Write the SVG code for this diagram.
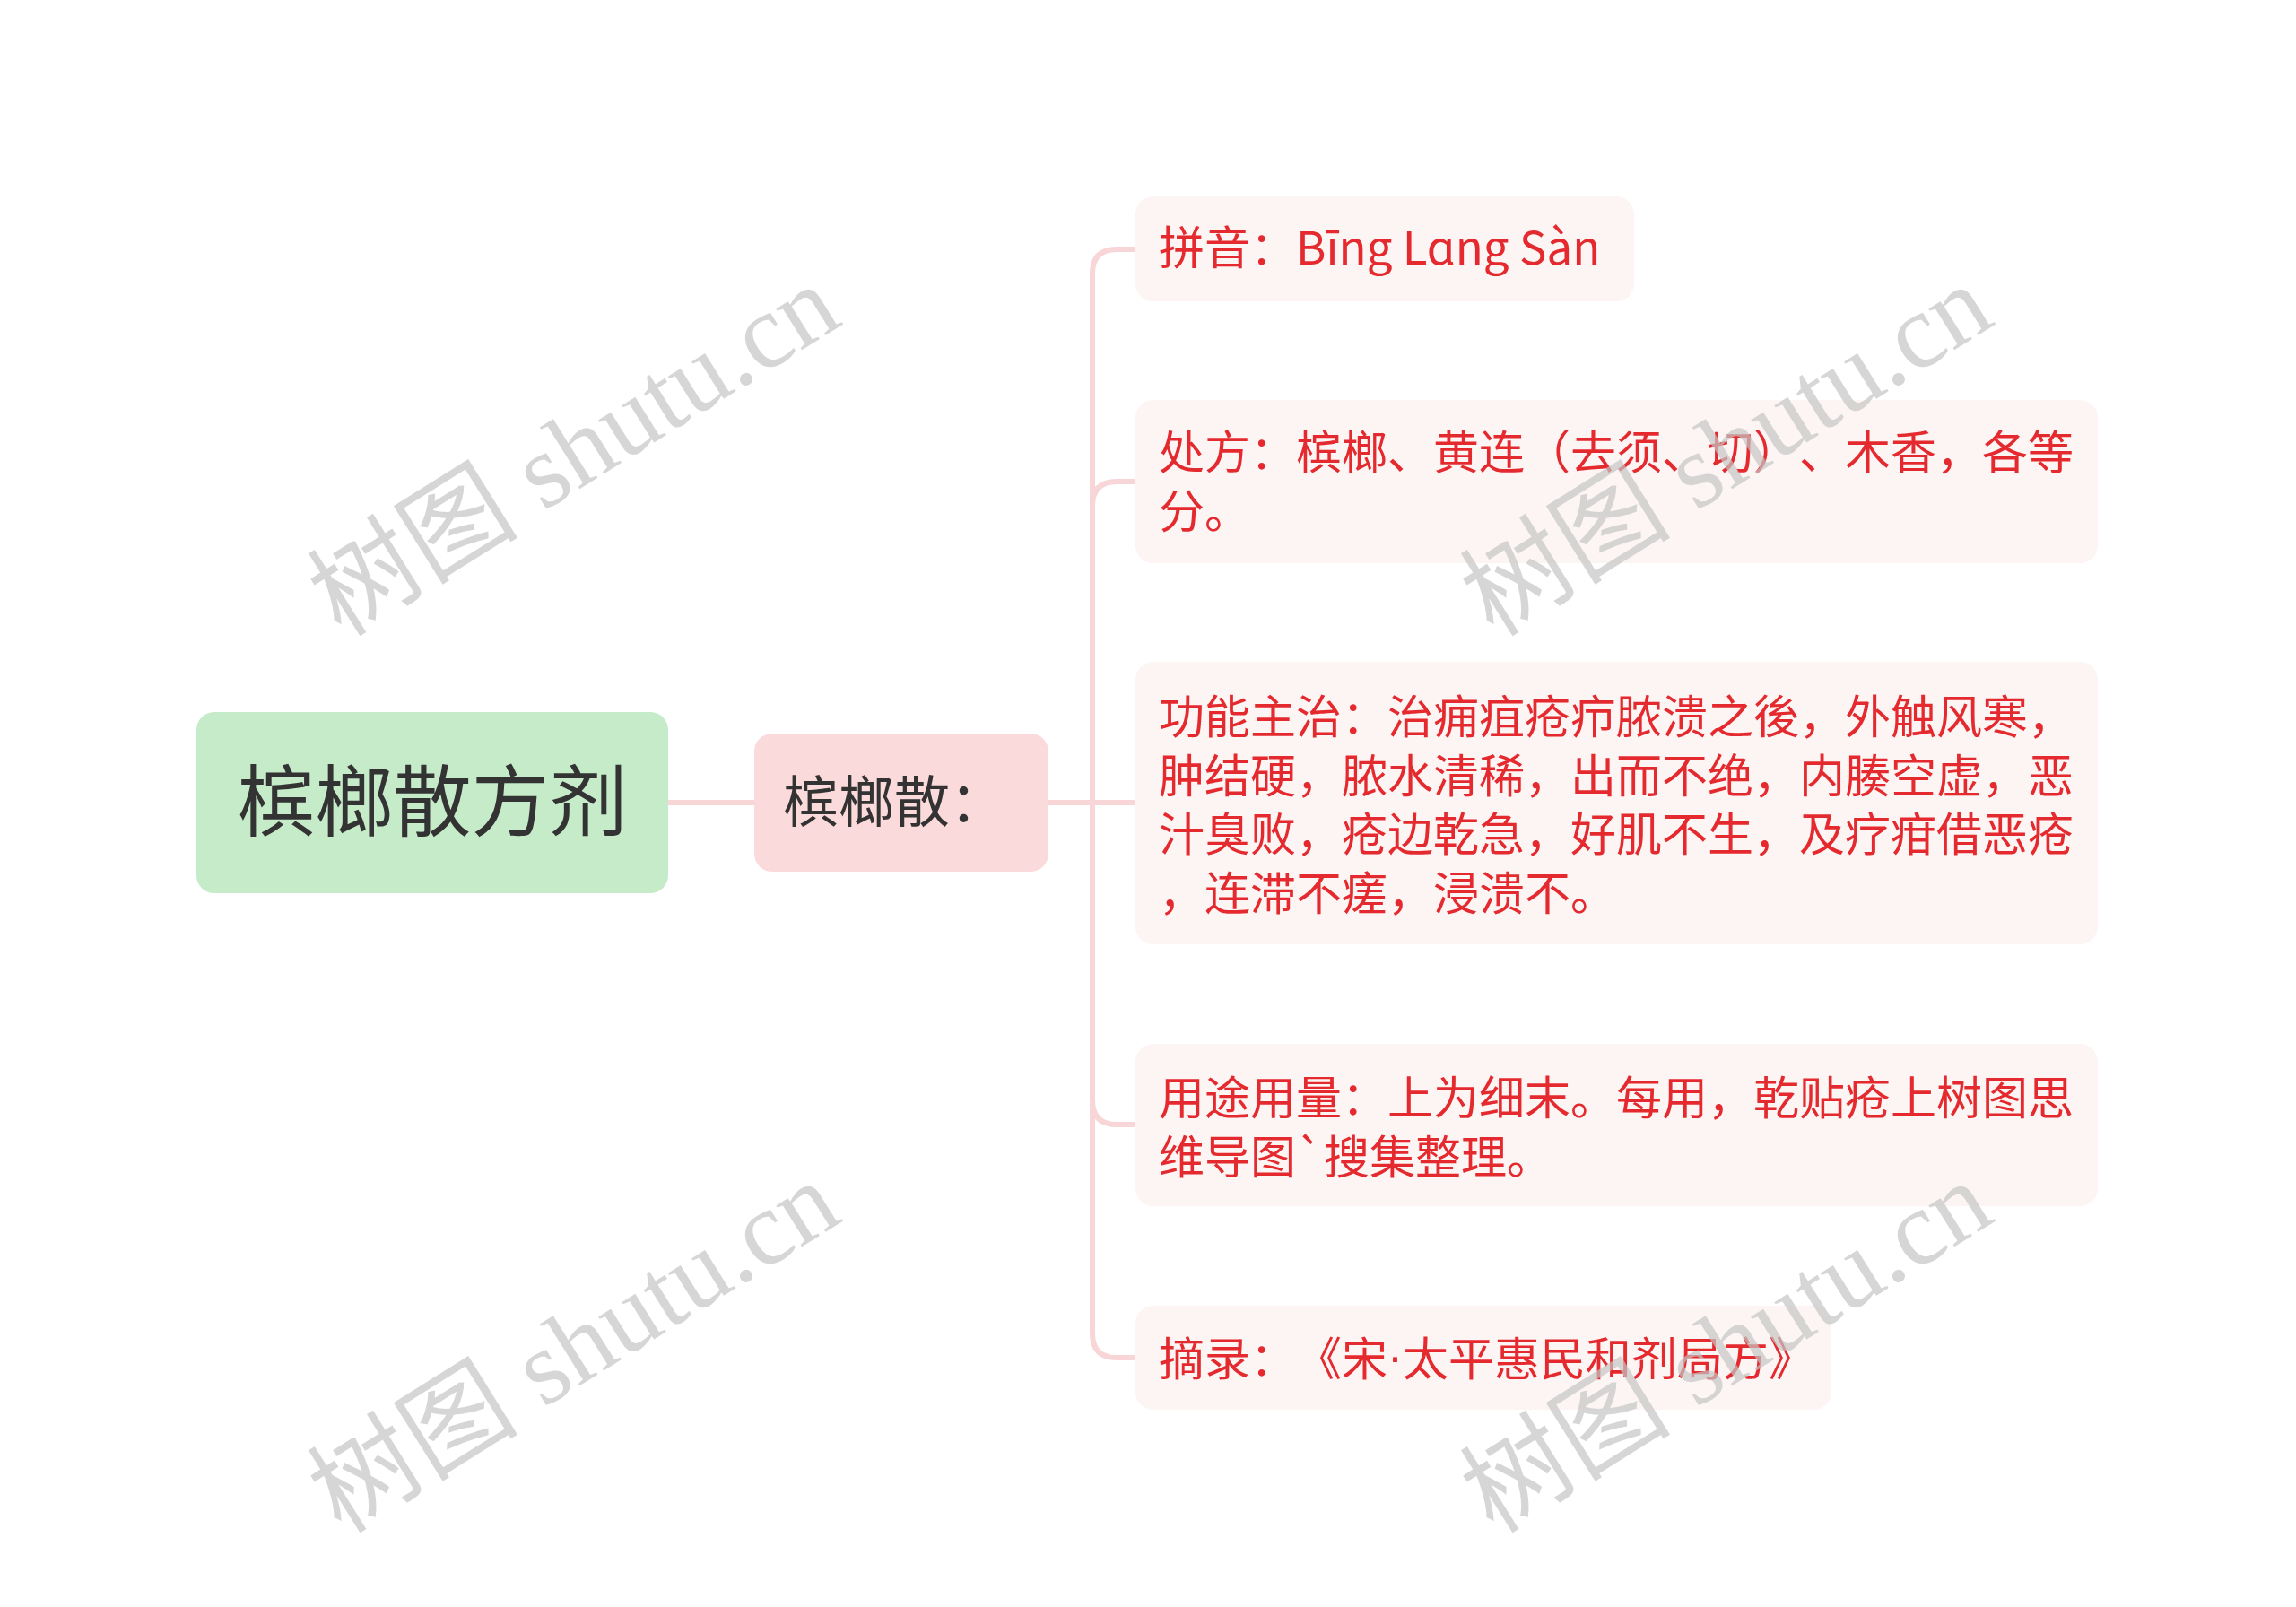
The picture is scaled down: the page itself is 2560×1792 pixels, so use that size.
<svg xmlns="http://www.w3.org/2000/svg" width="2560" height="1792" viewBox="0 0 2560 1792">
<style>
text{text-spacing-trim:space-all}
.conn{fill:none;stroke:#f8d5d6;stroke-width:6;stroke-linecap:round}
.leaf rect{fill:#fdf4f4}
.leaf text{fill:#e42a2e;font-size:51px;font-family:"Noto Sans CJK SC","Noto Sans",sans-serif;dominant-baseline:central}
.wm{fill:#c4c4c4;fill-opacity:0.7;font-size:118px;font-family:"Liberation Serif","Noto Sans CJK SC",serif}
</style>
<rect width="2560" height="1792" fill="#ffffff"/>
<g id="connectors">
<path class="conn" d="M745 895 H841"/>
<path class="conn" d="M1169 895 H1218"/>
<path class="conn" d="M1218 895 V305 Q1218 278 1245 278 H1268"/>
<path class="conn" d="M1218 895 V564 Q1218 537 1245 537 H1268"/>
<path class="conn" d="M1218 895 H1268"/>
<path class="conn" d="M1218 895 V1227 Q1218 1254 1245 1254 H1268"/>
<path class="conn" d="M1218 895 V1487 Q1218 1514 1245 1514 H1268"/>
</g>
<g id="root">
<rect x="219" y="794" width="526" height="202" rx="20" fill="#c5ebc9"/>
<text x="482" y="888" text-anchor="middle" dominant-baseline="central" font-size="87" font-family="Noto Sans CJK SC,sans-serif" fill="#333333">槟榔散方剂</text>
</g>
<g id="mid">
<rect x="841" y="818" width="328" height="154" rx="20" fill="#fbdadb"/>
<text x="873" y="890" dominant-baseline="central" font-size="62" font-family="Noto Sans CJK SC,sans-serif" fill="#333333">槟榔散：</text>
</g>
<g id="n1" class="leaf">
<rect x="1266" y="219" width="556" height="117" rx="20"/>
<text x="1292" y="273">拼音：Bīng Lɑng Sàn</text>
</g>
<g id="n2" class="leaf">
<rect x="1266" y="446" width="1073" height="182" rx="20"/>
<text x="1292" y="501">处方：槟榔、黄连（去须、切）、木香，各等</text>
<text x="1292" y="567">分。</text>
</g>
<g id="n3" class="leaf">
<rect x="1266" y="738" width="1073" height="315" rx="20"/>
<text x="1292" y="796">功能主治：治痈疽疮疖脓溃之後，外触风寒，</text>
<text x="1292" y="862">肿结硬，脓水清稀，出而不绝，内腠空虚，恶</text>
<text x="1292" y="927">汁臭败，疮边乾急，好肌不生，及疗疳借恶疮</text>
<text x="1292" y="993">，连滞不瘥，浸溃不。</text>
</g>
<g id="n4" class="leaf">
<rect x="1266" y="1164" width="1073" height="181" rx="20"/>
<text x="1292" y="1221">用途用量：上为细末。每用，乾贴疮上树图思</text>
<text x="1292" y="1287">维导图`搜集整理。</text>
</g>
<g id="n5" class="leaf">
<rect x="1266" y="1456" width="776" height="116" rx="20"/>
<text x="1292" y="1512">摘录：《宋<tspan font-family="Liberation Sans">·</tspan>太平惠民和剂局方》</text>
</g>
<g id="watermarks">
<text class="wm" text-anchor="middle" transform="translate(661,536) rotate(-32)">树图 shutu.cn</text>
<text class="wm" text-anchor="middle" transform="translate(1946,536) rotate(-32)">树图 shutu.cn</text>
<text class="wm" text-anchor="middle" transform="translate(661,1536) rotate(-32)">树图 shutu.cn</text>
<text class="wm" text-anchor="middle" transform="translate(1946,1536) rotate(-32)">树图 shutu.cn</text>
</g>
</svg>
